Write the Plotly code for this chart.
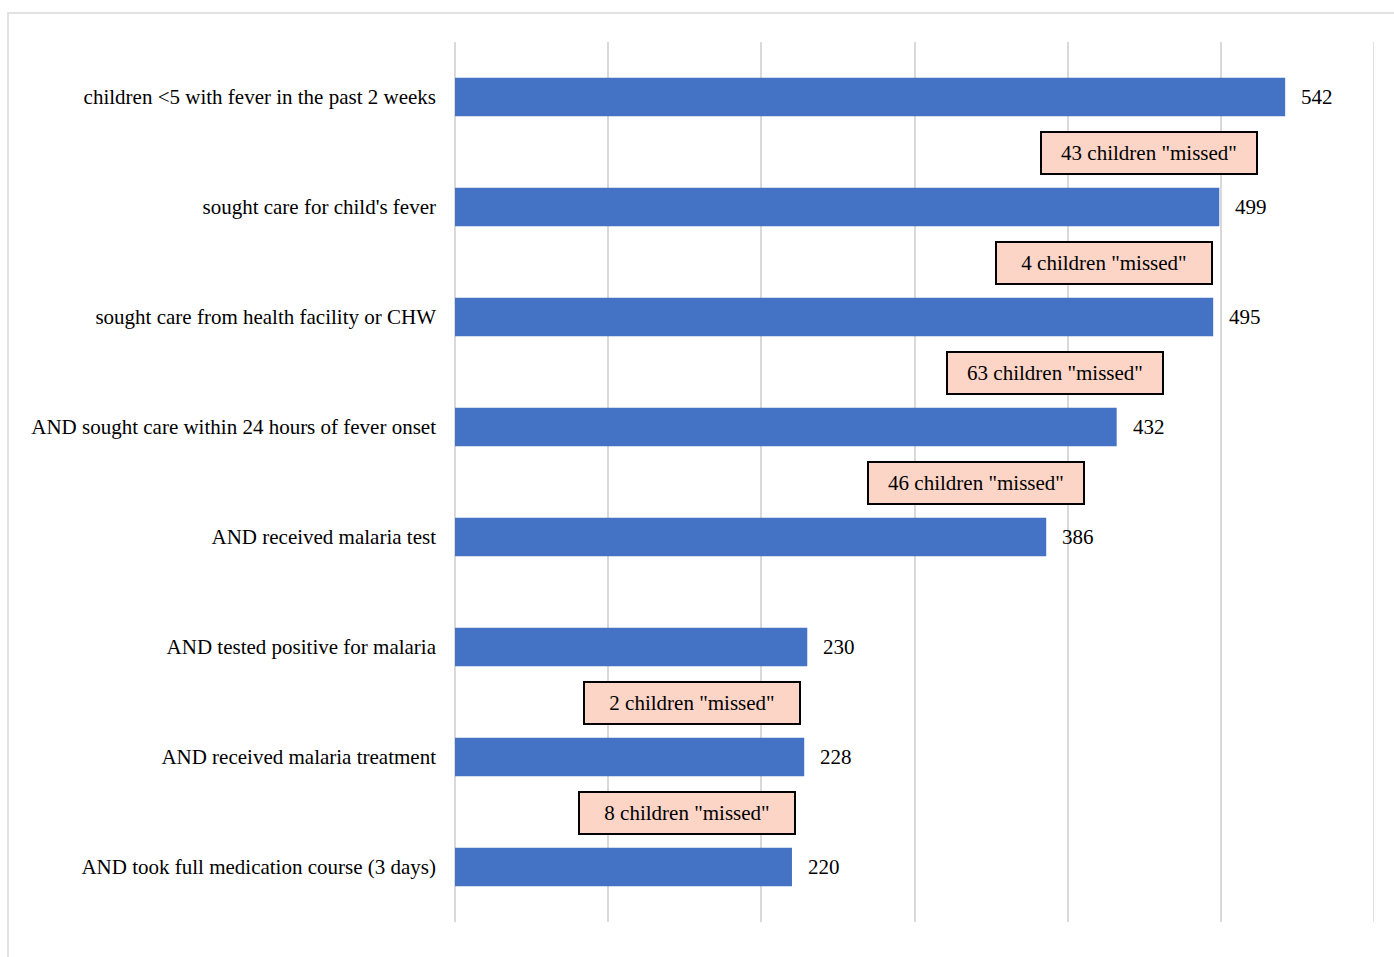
import plotly.graph_objects as go

# Malaria care cascade: children under 5 with fever, step by step
categories = [
    "children <5 with fever in the past 2 weeks",
    "sought care for child's fever",
    "sought care from health facility or CHW",
    "AND sought care within 24 hours of fever onset",
    "AND received malaria test",
    "AND tested positive for malaria",
    "AND received malaria treatment",
    "AND took full medication course (3 days)",
]
counts = [542, 499, 495, 432, 386, 230, 228, 220]

# Steps between which the drop-out is called out (index of the upper bar)
missed_steps = [0, 1, 2, 3, 5, 6]
# Horizontal centre of each call-out box, in axis units
missed_box_x = [453, 424, 392, 340, 155, 151.5]

FONT = "Liberation Serif"
FONT_SIZE = 21
BAR = "#4472C4"
GRID = "#d9d9d9"
X_MAX = 600

idx = list(range(len(categories)))

fig = go.Figure()
fig.add_trace(go.Bar(
    x=counts,
    y=idx,
    orientation="h",
    marker=dict(color=BAR, line=dict(width=0)),
    width=0.35,
    hoverinfo="x+y",
))

annotations = []
# value labels to the right of each bar
for i, v in zip(idx, counts):
    annotations.append(dict(
        x=v, y=i, xref="x", yref="y", text=str(v), showarrow=False,
        xanchor="left", yanchor="middle", xshift=14,
        font=dict(family=FONT, size=FONT_SIZE, color="#000000"),
    ))

# "missed" call-out boxes between consecutive steps
for k, bx in zip(missed_steps, missed_box_x):
    missed = counts[k] - counts[k + 1]
    annotations.append(dict(
        x=bx, y=k + 0.5, xref="x", yref="y", yshift=-1,
        text=f'{missed} children "missed"', showarrow=False,
        xanchor="center", yanchor="middle",
        width=212, height=38, align="center", valign="middle",
        bgcolor="#FCD5C7", bordercolor="#000000", borderwidth=2, borderpad=1,
        font=dict(family=FONT, size=FONT_SIZE, color="#000000"),
    ))

fig.update_layout(
    width=1394, height=957,
    margin=dict(l=455, r=20, t=42, b=35),
    paper_bgcolor="white", plot_bgcolor="white",
    showlegend=False,
    annotations=annotations,
    font=dict(family=FONT, size=FONT_SIZE, color="#000000"),
    shapes=[
        # outer chart frame
        dict(
            type="rect", xref="paper", yref="paper",
            x0=-0.4864, x1=1.1, y0=-0.2, y1=1.033,
            line=dict(color=GRID, width=1.5), fillcolor="rgba(0,0,0,0)", layer="below",
        ),
        # gridline at the upper end of the axis
        dict(
            type="line", xref="x", yref="paper",
            x0=X_MAX, x1=X_MAX, y0=0, y1=1,
            line=dict(color=GRID, width=1.5), layer="below",
        ),
    ],
)

fig.update_xaxes(
    range=[0, X_MAX], dtick=100, showgrid=True, gridcolor=GRID, gridwidth=1.5,
    zeroline=True, zerolinecolor=GRID, zerolinewidth=1.5,
    showticklabels=False, ticks="", showline=False, fixedrange=True,
)
fig.update_yaxes(
    tickmode="array", tickvals=idx, ticktext=categories,
    range=[len(categories) - 0.5, -0.5],
    showgrid=False, zeroline=False, showline=False, ticks="",
    ticklabelstandoff=18,
    tickfont=dict(family=FONT, size=FONT_SIZE, color="#000000"),
    fixedrange=True,
)

fig.write_html("out.html")
